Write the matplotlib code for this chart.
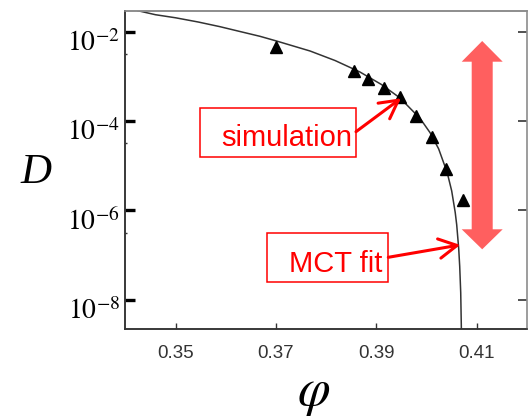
import numpy as np
import matplotlib
matplotlib.use("Agg")
import matplotlib.pyplot as plt
from matplotlib.patches import Rectangle, Polygon
from matplotlib.ticker import FixedLocator, NullLocator, NullFormatter
import matplotlib.transforms as mtransforms

plt.rcParams['mathtext.fontset'] = 'stix'

# simulation points (triangles)
phi_sim = [0.3701, 0.3855, 0.3884, 0.3916, 0.3947, 0.3978, 0.4010, 0.4039, 0.4072]
D_sim = [4.5e-3, 1.3e-3, 8.7e-4, 5.6e-4, 3.5e-4, 1.3e-4, 4.4e-5, 8.7e-6, 1.74e-6]

# MCT fit curve
phi_fit = [0.3425, 0.3460, 0.3500, 0.3545, 0.3588, 0.3630, 0.3668, 0.3701, 0.3768,
           0.3818, 0.3867, 0.3910, 0.3947, 0.3987, 0.4007, 0.4024, 0.4041, 0.4050,
           0.4057, 0.4060, 0.4064, 0.4066, 0.4068, 0.4070]
D_fit = [2.95e-2, 2.4e-2, 2.05e-2, 1.65e-2, 1.3e-2, 1.0e-2, 7.9e-3, 6.2e-3, 3.7e-3,
         2.26e-3, 1.26e-3, 6.6e-4, 3.3e-4, 1.15e-4, 5.5e-5, 2.4e-5, 7.1e-6, 2.75e-6,
         9.1e-7, 4.8e-7, 1.4e-7, 5.6e-8, 1.45e-8, 8e-10]

xticks = [0.35, 0.37, 0.39, 0.41]
xticklabels = ['0.35', '0.37', '0.39', '0.41']
yticks = [1e-2, 1e-4, 1e-6, 1e-8]
yticklabels = [r'$10^{-2}$', r'$10^{-4}$', r'$10^{-6}$', r'$10^{-8}$']
yminor = [10**-2.5, 10**-4.5, 10**-6.5]

W, H = 528, 420
L, R, T, B = 125.3, 527.0, 10.7, 328.5

fig = plt.figure(figsize=(W / 100, H / 100), dpi=100)
ax = fig.add_axes([L / W, 1 - B / H, (R - L) / W, (B - T) / H])


def px(x, y):
    # pixel position in the picture -> axes fraction
    return ((x - L) / (R - L), (B - y) / (B - T))


ax.plot(phi_fit, D_fit, color='#333333', lw=1.1, zorder=2)
ax.plot(phi_sim, D_sim, linestyle='none', marker='^', color='black', markersize=9, zorder=3)

ax.set_yscale('log')
ax.set_xlim(0.34, 0.42)
ax.set_ylim(10**-8.64, 10**-1.53)

ax.set_xticks(xticks)
ax.set_xticklabels(xticklabels, fontfamily='Liberation Sans', fontsize=13.5, color='#333333')
ax.xaxis.set_minor_locator(NullLocator())
ax.tick_params(axis='x', direction='in', length=4, width=1, color='#333333', pad=12,
               top=False)

ax.yaxis.set_major_locator(FixedLocator(yticks))
ax.set_yticklabels(yticklabels, fontsize=20)
ax.yaxis.set_minor_locator(FixedLocator(yminor))
ax.yaxis.set_minor_formatter(NullFormatter())
ax.tick_params(axis='y', which='major', direction='in', length=7, width=2.4,
               color='black', pad=4, right=False)
ax.tick_params(axis='y', which='minor', direction='in', length=1.5, width=1,
               color='#333333', right=False)
offset = mtransforms.ScaledTranslation(0, -6 / 72, fig.dpi_scale_trans)
for lab in ax.get_yticklabels():
    lab.set_transform(lab.get_transform() + offset)

ax2 = ax.twinx()
ax2.set_yscale('log')
ax2.set_ylim(ax.get_ylim())
ax2.yaxis.set_major_locator(FixedLocator(yticks))
ax2.yaxis.set_minor_locator(NullLocator())
ax2.tick_params(axis='y', which='major', direction='in', length=6.5, width=1.2,
                color='#333333', labelright=False)

for a in (ax, ax2):
    a.spines['left'].set_color('#333333')
    a.spines['bottom'].set_color('#333333')
    a.spines['top'].set_color('#8a8a8a')
    a.spines['right'].set_color('#9a9a9a')
    for s in a.spines.values():
        s.set_linewidth(1.1)

# big double arrow
cx, sw, hw = 482.2, 10.5, 20.5
top, hb1, hb2, bot = 41.0, 61.7, 229.3, 249.3
verts = [(cx, top), (cx + hw, hb1), (cx + sw, hb1), (cx + sw, hb2), (cx + hw, hb2),
         (cx, bot), (cx - hw, hb2), (cx - sw, hb2), (cx - sw, hb1), (cx - hw, hb1)]
ax.add_patch(Polygon([px(*v) for v in verts], closed=True, transform=ax.transAxes,
                     facecolor='#ff5f5f', edgecolor='none', zorder=1, clip_on=False))

# label boxes
x0, y0 = px(200, 156.7)
x1, y1 = px(356, 107.7)
ax.add_patch(Rectangle((x0, y0), x1 - x0, y1 - y0, transform=ax.transAxes,
                       facecolor='white', edgecolor='red', lw=1.1, zorder=4))
ax.text(*px(352, 145.7), 'simulation', transform=ax.transAxes, ha='right', va='baseline',
        color='red', fontsize=21, fontfamily='Liberation Sans', zorder=5)

x0, y0 = px(267.3, 281.7)
x1, y1 = px(388.3, 233.3)
ax.add_patch(Rectangle((x0, y0), x1 - x0, y1 - y0, transform=ax.transAxes,
                       facecolor='white', edgecolor='red', lw=1.1, zorder=4))
ax.text(*px(382, 271.7), 'MCT fit', transform=ax.transAxes, ha='right', va='baseline',
        color='red', fontsize=21, fontfamily='Liberation Sans', zorder=5)

arrow = dict(arrowstyle='->,head_length=0.65,head_width=0.35', color='red', lw=2.2,
             shrinkA=0, shrinkB=0, mutation_scale=20)
ax.annotate('', xy=(0.3949, 3.24e-4), xycoords='data', xytext=px(356, 131.7),
            textcoords='axes fraction', arrowprops=arrow, zorder=6)
ax.annotate('', xy=(0.4067, 1.7e-7), xycoords='data', xytext=px(388.3, 257.3),
            textcoords='axes fraction', arrowprops=arrow, zorder=6)

# axis labels
fig.text(36 / W, 1 - 173 / H, 'D', fontfamily='Liberation Serif', style='italic',
         fontsize=31, ha='center', va='center')
fig.text(314 / W, 1 - 405 / H, r'$\varphi$', fontsize=38, ha='center', va='baseline')

fig.savefig('out.png', dpi=100)
